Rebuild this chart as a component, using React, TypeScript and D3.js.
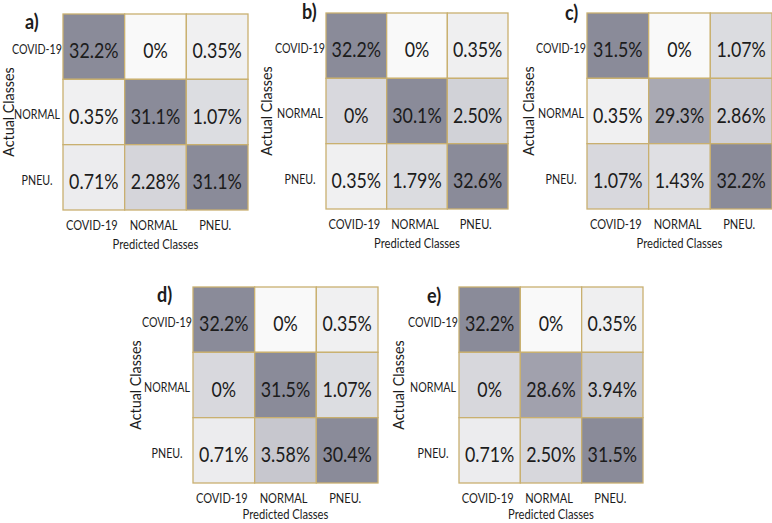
import React from "react";
import * as d3 from "d3";

const classes = ["COVID-19", "NORMAL", "PNEU."];
const panelLetters = ["a)", "b)", "c)", "d)", "e)"];

const valuesA = [[32.2, 0, 0.35], [0.35, 31.1, 1.07], [0.71, 2.28, 31.1]];
const valuesB = [[32.2, 0, 0.35], [0, 30.1, 2.5], [0.35, 1.79, 32.6]];
const valuesC = [[31.5, 0, 1.07], [0.35, 29.3, 2.86], [1.07, 1.43, 32.2]];
const valuesD = [[32.2, 0, 0.35], [0, 31.5, 1.07], [0.71, 3.58, 30.4]];
const valuesE = [[32.2, 0, 0.35], [0, 28.6, 3.94], [0.71, 2.5, 31.5]];

// cell shading intensity (0 = white, 1 = darkest)
const shadeA = [[1, 0.02, 0.1], [0.1, 1, 0.27], [0.13, 0.34, 1]];
const shadeB = [[1, 0.02, 0.11], [0.31, 1, 0.37], [0.1, 0.28, 1]];
const shadeC = [[1, 0.02, 0.28], [0.1, 0.73, 0.38], [0.31, 0.25, 1]];
const shadeD = [[1, 0.02, 0.1], [0.31, 1, 0.27], [0.13, 0.46, 1]];
const shadeE = [[1, 0.02, 0.11], [0.32, 0.8, 0.43], [0.13, 0.32, 1]];

const xLabel = "Predicted Classes";
const yLabel = "Actual Classes";

const W = 772;
const H = 523;
const FONT = "Lato, 'Open Sans', sans-serif";

// layout of each panel's grid
const layouts = [
  { x0: 63, x1: 248, y0: 14, y1: 210, lx: 25, ly: 21, ax: 8 },
  { x0: 326, x1: 508, y0: 13, y1: 209, lx: 302, ly: 11, ax: 266 },
  { x0: 587, x1: 772, y0: 13, y1: 209, lx: 565, ly: 12, ax: 528 },
  { x0: 193, x1: 378, y0: 287, y1: 483, lx: 157, ly: 294, ax: 135 },
  { x0: 459, x1: 643, y0: 287, y1: 483, lx: 427, ly: 295, ax: 398 },
];

const panelValues = [valuesA, valuesB, valuesC, valuesD, valuesE];
const panelShades = [shadeA, shadeB, shadeC, shadeD, shadeE];

const color = d3
  .scaleLinear<string>()
  .domain([0, 1])
  .range(["#fbfbfb", "#8a8b99"])
  .interpolate(d3.interpolateRgb);

const fmt = (v: number) =>
  v === 0 ? "0%" : v >= 10 ? v.toFixed(1) + "%" : v.toFixed(2) + "%";

function T({ x, y, size, children, anchor = "middle", weight = "normal", sx = 0.82, rotate = 0 }: any) {
  return (
    <text
      transform={`translate(${x},${y}) rotate(${rotate}) scale(${sx},1)`}
      textAnchor={anchor}
      dominantBaseline="central"
      fontSize={size}
      fontWeight={weight}
      fontFamily={FONT}
      fill="#1c1c1c"
    >
      {children}
    </text>
  );
}

function Panel({ idx }: { idx: number }) {
  const L = layouts[idx];
  const vals = panelValues[idx];
  const shades = panelShades[idx];
  const xs = d3.scaleBand<string>().domain(classes).range([L.x0, L.x1]);
  const ys = d3.scaleBand<string>().domain(classes).range([L.y0, L.y1]);
  return (
    <g>
      {classes.map((r, i) =>
        classes.map((c, j) => (
          <rect
            key={`${i}-${j}`}
            x={xs(c)!}
            y={ys(r)!}
            width={xs.bandwidth()}
            height={ys.bandwidth()}
            fill={color(shades[i][j])}
            stroke="#c9b070"
            strokeWidth={1.3}
          />
        ))
      )}
      {classes.map((r, i) =>
        classes.map((c, j) => (
          <T key={`t${i}-${j}`} x={xs(c)! + xs.bandwidth() / 2} y={ys(r)! + ys.bandwidth() / 2 + 3} size={22} sx={0.81}>
            {fmt(vals[i][j])}
          </T>
        ))
      )}
      {classes.map((r) => (
        <T key={`r${r}`} x={L.x0 - 26} y={ys(r)! + ys.bandwidth() / 2 + 2.5} size={13}>
          {r}
        </T>
      ))}
      {classes.map((c) => (
        <T key={`c${c}`} x={xs(c)! + xs.bandwidth() / 2 - 2} y={L.y1 + 15} size={13.5}>
          {c}
        </T>
      ))}
      <T x={(L.x0 + L.x1) / 2} y={Math.min(L.y1 + 33, H - 10)} size={14} sx={0.8}>
        {xLabel}
      </T>
      <T x={L.ax} y={(L.y0 + L.y1) / 2} size={15} sx={0.95} rotate={-90}>
        {yLabel}
      </T>
      <T x={L.lx} y={L.ly} size={20} weight="bold" anchor="start" sx={0.9}>
        {panelLetters[idx]}
      </T>
    </g>
  );
}

export default function App() {
  return (
    <svg
      width={W}
      height={H}
      viewBox={`0 0 ${W} ${H}`}
      style={{ position: "absolute", left: 0, top: 0, display: "block", background: "#ffffff" }}
    >
      <rect x={0} y={0} width={W} height={H} fill="#ffffff" />
      {panelLetters.map((_, i) => (
        <Panel key={i} idx={i} />
      ))}
    </svg>
  );
}
